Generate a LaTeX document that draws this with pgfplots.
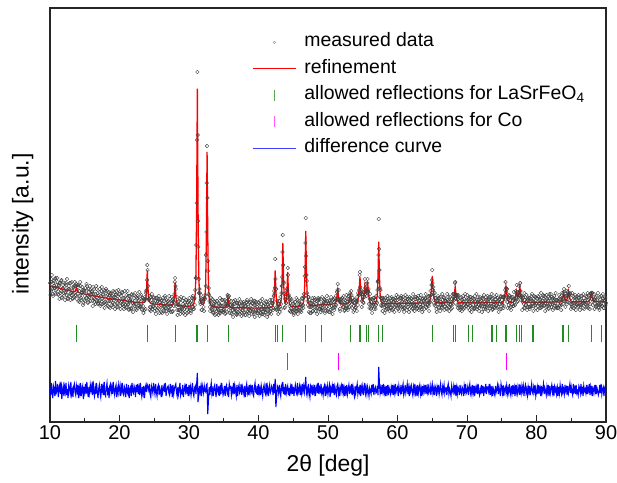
\documentclass[border=0pt]{standalone}
\usepackage{fontspec}
\setmainfont{Liberation Sans}
\usepackage{pgfplots}
\usepackage{pgfplotstable}
\pgfplotsset{compat=1.18}

% measured data (m) and difference curve (d), at 10.0, 10.1, ...
\pgfplotstableread[row sep=\\]{
x m d\\
10.0 139 35\\ 10.1 131 27\\ 10.2 143 39\\ 10.3 134 30\\ 10.4 128 24\\ 10.5 139 36\\ 10.6 136 33\\ 10.7 129 26\\ 10.8 144 41\\ 10.9 132 29\\
11.0 133 31\\ 11.1 140 38\\ 11.2 127 25\\ 11.3 136 34\\ 11.4 139 37\\ 11.5 129 28\\ 11.6 141 40\\ 11.7 124 23\\ 11.8 133 32\\ 11.9 137 36\\
12.0 126 26\\ 12.1 135 35\\ 12.2 130 30\\ 12.3 139 39\\ 12.4 127 27\\ 12.5 132 33\\ 12.6 123 24\\ 12.7 136 37\\ 12.8 133 34\\ 12.9 128 29\\
13.0 139 40\\ 13.1 127 28\\ 13.2 131 32\\ 13.3 124 25\\ 13.4 134 35\\ 13.5 136 38\\ 13.6 129 30\\ 13.7 127 27\\ 13.8 138 36\\ 13.9 131 31\\
14.0 135 37\\ 14.1 121 24\\ 14.2 131 34\\ 14.3 126 29\\ 14.4 136 39\\ 14.5 122 26\\ 14.6 129 33\\ 14.7 132 36\\ 14.8 119 23\\ 14.9 131 35\\
15.0 126 30\\ 15.1 134 38\\ 15.2 124 28\\ 15.3 136 40\\ 15.4 127 31\\ 15.5 120 25\\ 15.6 130 35\\ 15.7 124 29\\ 15.8 132 37\\ 15.9 127 32\\
16.0 130 36\\ 16.1 121 27\\ 16.2 135 41\\ 16.3 124 30\\ 16.4 120 26\\ 16.5 128 34\\ 16.6 122 28\\ 16.7 133 39\\ 16.8 125 31\\ 16.9 118 24\\
17.0 126 33\\ 17.1 130 37\\ 17.2 122 29\\ 17.3 118 25\\ 17.4 131 38\\ 17.5 123 31\\ 17.6 127 35\\ 17.7 119 27\\ 17.8 132 40\\ 17.9 120 28\\
18.0 118 26\\ 18.1 126 34\\ 18.2 131 39\\ 18.3 121 29\\ 18.4 124 32\\ 18.5 115 24\\ 18.6 127 36\\ 18.7 129 38\\ 18.8 121 30\\ 18.9 126 35\\
19.0 119 28\\ 19.1 131 40\\ 19.2 122 31\\ 19.3 118 27\\ 19.4 125 34\\ 19.5 127 37\\ 19.6 115 25\\ 19.7 123 33\\ 19.8 119 29\\ 19.9 128 38\\
20.0 124 34\\ 20.1 116 26\\ 20.2 126 36\\ 20.3 121 31\\ 20.4 129 39\\ 20.5 118 29\\ 20.6 116 27\\ 20.7 124 35\\ 20.8 121 32\\ 20.9 114 25\\
21.0 127 38\\ 21.1 119 30\\ 21.2 117 28\\ 21.3 126 37\\ 21.4 113 24\\ 21.5 121 33\\ 21.6 123 35\\ 21.7 114 26\\ 21.8 127 39\\ 21.9 119 31\\
22.0 117 29\\ 22.1 124 36\\ 22.2 121 33\\ 22.3 113 25\\ 22.4 125 37\\ 22.5 118 30\\ 22.6 126 38\\ 22.7 116 28\\ 22.8 122 34\\ 22.9 115 27\\
23.0 126 39\\ 23.1 118 31\\ 23.2 113 26\\ 23.3 122 35\\ 23.4 116 29\\ 23.5 123 36\\ 23.6 112 24\\ 23.7 123 34\\ 23.8 129 37\\ 23.9 132 30\\
24.0 157 37\\ 24.1 136 35\\ 24.2 123 32\\ 24.3 126 38\\ 24.4 115 28\\ 24.5 111 25\\ 24.6 122 36\\ 24.7 119 33\\ 24.8 115 29\\ 24.9 125 39\\
25.0 119 33\\ 25.1 114 28\\ 25.2 124 38\\ 25.3 116 30\\ 25.4 112 26\\ 25.5 121 35\\ 25.6 123 37\\ 25.7 113 27\\ 25.8 120 34\\ 25.9 117 31\\
26.0 110 25\\ 26.1 122 37\\ 26.2 114 29\\ 26.3 118 33\\ 26.4 121 36\\ 26.5 115 30\\ 26.6 124 39\\ 26.7 111 26\\ 26.8 117 32\\ 26.9 120 35\\
27.0 121 36\\ 27.1 114 29\\ 27.2 112 27\\ 27.3 123 38\\ 27.4 116 31\\ 27.5 119 34\\ 27.6 110 25\\ 27.7 123 37\\ 27.8 116 28\\ 27.9 128 33\\
28.0 144 36\\ 28.1 133 38\\ 28.2 118 30\\ 28.3 112 26\\ 28.4 120 35\\ 28.5 112 28\\ 28.6 117 33\\ 28.7 123 39\\ 28.8 111 27\\ 28.9 115 31\\
29.0 113 29\\ 29.1 121 37\\ 29.2 109 25\\ 29.3 116 32\\ 29.4 120 36\\ 29.5 115 31\\ 29.6 122 38\\ 29.7 112 28\\ 29.8 119 35\\ 29.9 110 26\\
30.0 121 37\\ 30.1 114 30\\ 30.2 119 35\\ 30.3 111 27\\ 30.4 118 33\\ 30.5 124 39\\ 30.6 115 29\\ 30.7 113 26\\ 30.8 124 34\\ 30.9 132 36\\
31.0 144 28\\ 31.1 219 38\\ 31.2 350 49\\ 31.3 201 20\\ 31.4 143 27\\ 31.5 133 36\\ 31.6 120 30\\ 31.7 122 35\\ 31.8 112 26\\ 31.9 123 37\\
32.0 119 33\\ 32.1 115 29\\ 32.2 124 36\\ 32.3 123 31\\ 32.4 136 30\\ 32.5 190 37\\ 32.6 276 38\\ 32.7 161 8\\ 32.8 128 22\\ 32.9 127 35\\
33.0 115 27\\ 33.1 119 34\\ 33.2 124 39\\ 33.3 112 28\\ 33.4 115 32\\ 33.5 109 26\\ 33.6 118 35\\ 33.7 120 37\\ 33.8 113 30\\ 33.9 108 25\\
34.0 121 38\\ 34.1 114 31\\ 34.2 112 29\\ 34.3 119 36\\ 34.4 109 26\\ 34.5 117 34\\ 34.6 111 28\\ 34.7 122 39\\ 34.8 116 33\\ 34.9 110 27\\
35.0 112 30\\ 35.1 118 36\\ 35.2 108 26\\ 35.3 118 35\\ 35.4 121 37\\ 35.5 116 29\\ 35.6 125 32\\ 35.7 112 25\\ 35.8 122 38\\ 35.9 117 34\\
36.0 117 35\\ 36.1 109 27\\ 36.2 115 33\\ 36.3 112 30\\ 36.4 121 39\\ 36.5 110 28\\ 36.6 118 36\\ 36.7 113 31\\ 36.8 108 26\\ 36.9 119 37\\
37.0 108 26\\ 37.1 116 34\\ 37.2 119 37\\ 37.3 111 29\\ 37.4 113 31\\ 37.5 120 38\\ 37.6 109 27\\ 37.7 117 35\\ 37.8 114 32\\ 37.9 110 28\\
38.0 118 36\\ 38.1 107 25\\ 38.2 116 34\\ 38.3 120 38\\ 38.4 111 29\\ 38.5 115 33\\ 38.6 109 27\\ 38.7 119 37\\ 38.8 112 30\\ 38.9 117 35\\
39.0 113 31\\ 39.1 119 37\\ 39.2 110 28\\ 39.3 108 26\\ 39.4 117 35\\ 39.5 121 39\\ 39.6 112 30\\ 39.7 111 29\\ 39.8 118 36\\ 39.9 109 27\\
40.0 120 38\\ 40.1 111 29\\ 40.2 115 33\\ 40.3 109 27\\ 40.4 118 36\\ 40.5 113 31\\ 40.6 108 26\\ 40.7 116 34\\ 40.8 119 37\\ 40.9 112 30\\
41.0 110 28\\ 41.1 121 39\\ 41.2 112 30\\ 41.3 117 35\\ 41.4 108 26\\ 41.5 115 33\\ 41.6 119 37\\ 41.7 111 29\\ 41.8 113 31\\ 41.9 119 36\\
42.0 118 34\\ 42.1 112 27\\ 42.2 126 38\\ 42.3 128 29\\ 42.4 163 43\\ 42.5 114 15\\ 42.6 112 24\\ 42.7 121 36\\ 42.8 118 34\\ 42.9 113 29\\
43.0 121 37\\ 43.1 115 30\\ 43.2 113 26\\ 43.3 129 36\\ 43.4 145 33\\ 43.5 187 40\\ 43.6 140 28\\ 43.7 128 35\\ 43.8 115 27\\ 43.9 125 38\\
44.0 119 29\\ 44.1 133 33\\ 44.2 154 36\\ 44.3 126 27\\ 44.4 123 34\\ 44.5 111 26\\ 44.6 119 35\\ 44.7 114 31\\ 44.8 121 38\\ 44.9 111 28\\
45.0 118 35\\ 45.1 109 26\\ 45.2 116 33\\ 45.3 120 37\\ 45.4 113 30\\ 45.5 111 28\\ 45.6 122 39\\ 45.7 112 29\\ 45.8 115 32\\ 45.9 119 36\\
46.0 111 27\\ 46.1 118 34\\ 46.2 113 29\\ 46.3 123 38\\ 46.4 117 31\\ 46.5 125 36\\ 46.6 125 30\\ 46.7 155 37\\ 46.8 204 45\\ 46.9 147 29\\
47.0 129 33\\ 47.1 117 28\\ 47.2 125 38\\ 47.3 115 30\\ 47.4 109 25\\ 47.5 119 35\\ 47.6 115 31\\ 47.7 121 37\\ 47.8 111 27\\ 47.9 118 34\\
48.0 115 30\\ 48.1 122 37\\ 48.2 111 26\\ 48.3 118 33\\ 48.4 121 36\\ 48.5 114 29\\ 48.6 124 39\\ 48.7 113 28\\ 48.8 119 34\\ 48.9 116 31\\
49.0 123 38\\ 49.1 114 29\\ 49.2 117 32\\ 49.3 112 27\\ 49.4 120 35\\ 49.5 122 37\\ 49.6 111 26\\ 49.7 119 34\\ 49.8 115 30\\ 49.9 121 36\\
50.0 113 28\\ 50.1 118 33\\ 50.2 122 37\\ 50.3 110 25\\ 50.4 119 34\\ 50.5 116 31\\ 50.6 121 36\\ 50.7 114 29\\ 50.8 123 38\\ 50.9 112 27\\
51.0 121 35\\ 51.1 117 30\\ 51.2 117 27\\ 51.3 130 36\\ 51.4 138 38\\ 51.5 122 28\\ 51.6 123 33\\ 51.7 113 26\\ 51.8 120 34\\ 51.9 123 37\\
52.0 117 31\\ 52.1 124 38\\ 52.2 115 29\\ 52.3 120 34\\ 52.4 112 26\\ 52.5 122 36\\ 52.6 116 30\\ 52.7 123 37\\ 52.8 114 28\\ 52.9 120 33\\
53.0 126 37\\ 53.1 119 28\\ 53.2 129 34\\ 53.3 122 31\\ 53.4 127 38\\ 53.5 114 27\\ 53.6 121 35\\ 53.7 116 30\\ 53.8 112 26\\ 53.9 122 36\\
54.0 115 29\\ 54.1 120 34\\ 54.2 125 38\\ 54.3 117 28\\ 54.4 127 33\\ 54.5 132 30\\ 54.6 150 37\\ 54.7 128 26\\ 54.8 129 35\\ 54.9 121 31\\
55.0 125 36\\ 55.1 119 27\\ 55.2 129 33\\ 55.3 143 39\\ 55.4 128 29\\ 55.5 131 34\\ 55.6 129 28\\ 55.7 143 35\\ 55.8 130 31\\ 55.9 118 26\\
56.0 123 34\\ 56.1 118 31\\ 56.2 114 28\\ 56.3 123 37\\ 56.4 116 30\\ 56.5 124 38\\ 56.6 113 27\\ 56.7 119 33\\ 56.8 122 35\\ 56.9 117 29\\
57.0 120 30\\ 57.1 132 36\\ 57.2 141 27\\ 57.3 203 55\\ 57.4 152 38\\ 57.5 125 29\\ 57.6 124 34\\ 57.7 116 28\\ 57.8 124 37\\ 57.9 117 31\\
58.0 124 38\\ 58.1 115 29\\ 58.2 119 33\\ 58.3 112 26\\ 58.4 122 36\\ 58.5 116 30\\ 58.6 123 37\\ 58.7 113 27\\ 58.8 120 34\\ 58.9 117 31\\
59.0 114 28\\ 59.1 121 35\\ 59.2 117 31\\ 59.3 123 37\\ 59.4 113 27\\ 59.5 120 34\\ 59.6 115 29\\ 59.7 124 38\\ 59.8 116 30\\ 59.9 119 33\\
60.0 122 35\\ 60.1 113 26\\ 60.2 123 36\\ 60.3 118 31\\ 60.4 116 29\\ 60.5 124 37\\ 60.6 115 28\\ 60.7 121 34\\ 60.8 125 38\\ 60.9 114 27\\
61.0 117 30\\ 61.1 124 37\\ 61.2 116 29\\ 61.3 120 33\\ 61.4 125 38\\ 61.5 115 28\\ 61.6 121 34\\ 61.7 113 26\\ 61.8 122 35\\ 61.9 118 31\\
62.0 123 36\\ 62.1 118 31\\ 62.2 114 27\\ 62.3 122 35\\ 62.4 117 30\\ 62.5 125 38\\ 62.6 116 29\\ 62.7 120 33\\ 62.8 113 26\\ 62.9 124 37\\
63.0 116 29\\ 63.1 121 34\\ 63.2 124 37\\ 63.3 115 28\\ 63.4 120 33\\ 63.5 113 26\\ 63.6 123 36\\ 63.7 117 30\\ 63.8 122 35\\ 63.9 118 31\\
64.0 124 37\\ 64.1 115 28\\ 64.2 121 34\\ 64.3 117 30\\ 64.4 125 38\\ 64.5 116 29\\ 64.6 119 31\\ 64.7 126 36\\ 64.8 122 27\\ 64.9 137 34\\
65.0 152 38\\ 65.1 132 29\\ 65.2 128 33\\ 65.3 117 27\\ 65.4 124 36\\ 65.5 121 34\\ 65.6 113 26\\ 65.7 122 35\\ 65.8 118 31\\ 65.9 124 37\\
66.0 115 28\\ 66.1 120 33\\ 66.2 125 38\\ 66.3 117 30\\ 66.4 114 27\\ 66.5 122 35\\ 66.6 118 31\\ 66.7 124 37\\ 66.8 116 29\\ 66.9 121 34\\
67.0 121 34\\ 67.1 114 27\\ 67.2 122 35\\ 67.3 125 38\\ 67.4 115 28\\ 67.5 120 33\\ 67.6 117 30\\ 67.7 113 26\\ 67.8 123 36\\ 67.9 119 31\\
68.0 118 29\\ 68.1 128 36\\ 68.2 128 31\\ 68.3 140 37\\ 68.4 123 26\\ 68.5 126 34\\ 68.6 117 28\\ 68.7 123 35\\ 68.8 120 33\\ 68.9 114 27\\
69.0 124 37\\ 69.1 117 30\\ 69.2 115 28\\ 69.3 122 35\\ 69.4 120 33\\ 69.5 113 26\\ 69.6 123 36\\ 69.7 118 31\\ 69.8 125 38\\ 69.9 116 29\\
70.0 118 31\\ 70.1 122 35\\ 70.2 114 27\\ 70.3 121 34\\ 70.4 125 38\\ 70.5 116 29\\ 70.6 120 33\\ 70.7 115 28\\ 70.8 124 37\\ 70.9 117 30\\
71.0 123 36\\ 71.1 113 26\\ 71.2 121 34\\ 71.3 118 31\\ 71.4 122 35\\ 71.5 115 28\\ 71.6 125 38\\ 71.7 117 30\\ 71.8 114 27\\ 71.9 120 33\\
72.0 117 30\\ 72.1 124 37\\ 72.2 116 29\\ 72.3 123 36\\ 72.4 113 26\\ 72.5 120 33\\ 72.6 118 31\\ 72.7 125 38\\ 72.8 115 28\\ 72.9 122 35\\
73.0 122 35\\ 73.1 118 31\\ 73.2 125 38\\ 73.3 114 27\\ 73.4 121 34\\ 73.5 116 29\\ 73.6 123 36\\ 73.7 113 26\\ 73.8 120 33\\ 73.9 117 30\\
74.0 114 27\\ 74.1 123 36\\ 74.2 117 30\\ 74.3 120 33\\ 74.4 124 37\\ 74.5 115 28\\ 74.6 122 35\\ 74.7 118 31\\ 74.8 113 26\\ 74.9 125 38\\
75.0 122 34\\ 75.1 117 29\\ 75.2 125 37\\ 75.3 116 26\\ 75.4 125 33\\ 75.5 132 35\\ 75.6 134 30\\ 75.7 133 36\\ 75.8 120 28\\ 75.9 123 33\\
76.0 117 29\\ 76.1 126 38\\ 76.2 119 31\\ 76.3 115 27\\ 76.4 124 36\\ 76.5 118 30\\ 76.6 125 37\\ 76.7 116 28\\ 76.8 123 34\\ 76.9 117 26\\
77.0 131 37\\ 77.1 129 30\\ 77.2 130 35\\ 77.3 121 28\\ 77.4 125 31\\ 77.5 136 38\\ 77.6 131 27\\ 77.7 131 34\\ 77.8 122 29\\ 77.9 126 36\\
78.0 120 31\\ 78.1 124 36\\ 78.2 114 26\\ 78.3 122 34\\ 78.4 125 37\\ 78.5 117 29\\ 78.6 121 33\\ 78.7 115 27\\ 78.8 123 35\\ 78.9 118 30\\
79.0 124 36\\ 79.1 115 27\\ 79.2 121 33\\ 79.3 126 38\\ 79.4 118 30\\ 79.5 116 28\\ 79.6 123 35\\ 79.7 119 31\\ 79.8 125 37\\ 79.9 114 26\\
80.0 118 30\\ 80.1 123 35\\ 80.2 116 28\\ 80.3 125 37\\ 80.4 119 31\\ 80.5 122 34\\ 80.6 114 26\\ 80.7 124 36\\ 80.8 117 29\\ 80.9 121 33\\
81.0 126 38\\ 81.1 116 28\\ 81.2 122 34\\ 81.3 119 31\\ 81.4 115 27\\ 81.5 123 35\\ 81.6 118 30\\ 81.7 125 37\\ 81.8 114 26\\ 81.9 124 36\\
82.0 117 29\\ 82.1 121 33\\ 82.2 125 37\\ 82.3 118 30\\ 82.4 124 36\\ 82.5 114 26\\ 82.6 123 35\\ 82.7 119 31\\ 82.8 122 34\\ 82.9 116 28\\
83.0 122 34\\ 83.1 114 26\\ 83.2 123 35\\ 83.3 117 29\\ 83.4 125 37\\ 83.5 119 31\\ 83.6 117 28\\ 83.7 129 38\\ 83.8 123 30\\ 83.9 130 33\\
84.0 121 28\\ 84.1 128 37\\ 84.2 121 31\\ 84.3 124 34\\ 84.4 118 27\\ 84.5 130 36\\ 84.6 128 29\\ 84.7 127 33\\ 84.8 129 38\\ 84.9 118 29\\
85.0 124 35\\ 85.1 118 30\\ 85.2 115 27\\ 85.3 126 38\\ 85.4 119 31\\ 85.5 122 34\\ 85.6 116 28\\ 85.7 125 37\\ 85.8 117 29\\ 85.9 119 31\\
86.0 115 27\\ 86.1 124 36\\ 86.2 122 34\\ 86.3 117 29\\ 86.4 126 38\\ 86.5 118 30\\ 86.6 121 33\\ 86.7 114 26\\ 86.8 124 36\\ 86.9 119 31\\
87.0 121 33\\ 87.1 117 29\\ 87.2 125 37\\ 87.3 116 28\\ 87.4 122 34\\ 87.5 119 31\\ 87.6 127 38\\ 87.7 118 27\\ 87.8 128 35\\ 87.9 126 30\\
88.0 129 36\\ 88.1 117 26\\ 88.2 122 33\\ 88.3 123 35\\ 88.4 118 30\\ 88.5 125 37\\ 88.6 116 28\\ 88.7 122 34\\ 88.8 119 31\\ 88.9 115 27\\
89.0 118 30\\ 89.1 125 37\\ 89.2 117 29\\ 89.3 126 38\\ 89.4 116 28\\ 89.5 121 33\\ 89.6 123 35\\ 89.7 114 26\\ 89.8 122 34\\ 89.9 124 36\\
90.0 119 31\\
}\obs

% measured data at the intermediate angles 10.05, 10.15, ...
\pgfplotstableread[row sep=\\]{
x m\\
10.05 127\\ 10.15 140\\ 10.25 147\\ 10.35 133\\ 10.45 126\\ 10.55 141\\ 10.65 134\\ 10.75 143\\ 10.85 128\\ 10.95 137\\
11.05 144\\ 11.15 128\\ 11.25 137\\ 11.35 123\\ 11.45 139\\ 11.55 131\\ 11.65 142\\ 11.75 125\\ 11.85 134\\ 11.95 129\\
12.05 139\\ 12.15 122\\ 12.25 129\\ 12.35 137\\ 12.45 143\\ 12.55 124\\ 12.65 133\\ 12.75 126\\ 12.85 139\\ 12.95 122\\
13.05 129\\ 13.15 140\\ 13.25 123\\ 13.35 135\\ 13.45 125\\ 13.55 140\\ 13.65 127\\ 13.75 136\\ 13.85 123\\ 13.95 137\\
14.05 137\\ 14.15 126\\ 14.25 120\\ 14.35 140\\ 14.45 124\\ 14.55 129\\ 14.65 135\\ 14.75 117\\ 14.85 132\\ 14.95 122\\
15.05 121\\ 15.15 131\\ 15.25 138\\ 15.35 124\\ 15.45 119\\ 15.55 133\\ 15.65 125\\ 15.75 136\\ 15.85 121\\ 15.95 128\\
16.05 131\\ 16.15 116\\ 16.25 128\\ 16.35 133\\ 16.45 123\\ 16.55 118\\ 16.65 136\\ 16.75 121\\ 16.85 129\\ 16.95 119\\
17.05 121\\ 17.15 133\\ 17.25 116\\ 17.35 126\\ 17.45 135\\ 17.55 118\\ 17.65 128\\ 17.75 122\\ 17.85 114\\ 17.95 131\\
18.05 133\\ 18.15 119\\ 18.25 127\\ 18.35 116\\ 18.45 130\\ 18.55 121\\ 18.65 114\\ 18.75 128\\ 18.85 124\\ 18.95 117\\
19.05 115\\ 19.15 125\\ 19.25 130\\ 19.35 113\\ 19.45 127\\ 19.55 131\\ 19.65 119\\ 19.75 115\\ 19.85 132\\ 19.95 121\\
20.05 128\\ 20.15 113\\ 20.25 120\\ 20.35 130\\ 20.45 117\\ 20.55 124\\ 20.65 113\\ 20.75 131\\ 20.85 117\\ 20.95 123\\
21.05 115\\ 21.15 131\\ 21.25 118\\ 21.35 112\\ 21.45 126\\ 21.55 122\\ 21.65 113\\ 21.75 128\\ 21.85 119\\ 21.95 110\\
22.05 127\\ 22.15 116\\ 22.25 129\\ 22.35 118\\ 22.45 112\\ 22.55 124\\ 22.65 114\\ 22.75 121\\ 22.85 130\\ 22.95 115\\
23.05 116\\ 23.15 127\\ 23.25 112\\ 23.35 124\\ 23.45 109\\ 23.55 121\\ 23.65 125\\ 23.75 113\\ 23.85 131\\ 23.95 142\\
24.05 152\\ 24.15 122\\ 24.25 123\\ 24.35 112\\ 24.45 125\\ 24.55 115\\ 24.65 128\\ 24.75 113\\ 24.85 116\\ 24.95 124\\
25.05 111\\ 25.15 121\\ 25.25 108\\ 25.35 124\\ 25.45 120\\ 25.55 114\\ 25.65 126\\ 25.75 109\\ 25.85 123\\ 25.95 117\\
26.05 121\\ 26.15 109\\ 26.25 124\\ 26.35 115\\ 26.45 111\\ 26.55 126\\ 26.65 114\\ 26.75 122\\ 26.85 108\\ 26.95 118\\
27.05 112\\ 27.15 126\\ 27.25 116\\ 27.35 110\\ 27.45 121\\ 27.55 125\\ 27.65 111\\ 27.75 121\\ 27.85 120\\ 27.95 140\\
28.05 136\\ 28.15 116\\ 28.25 125\\ 28.35 107\\ 28.45 117\\ 28.55 121\\ 28.65 112\\ 28.75 108\\ 28.85 125\\ 28.95 114\\
29.05 110\\ 29.15 118\\ 29.25 124\\ 29.35 113\\ 29.45 107\\ 29.55 122\\ 29.65 117\\ 29.75 109\\ 29.85 120\\ 29.95 115\\
30.05 124\\ 30.15 112\\ 30.25 109\\ 30.35 121\\ 30.45 115\\ 30.55 126\\ 30.65 113\\ 30.75 123\\ 30.85 117\\ 30.95 144\\
31.05 177\\ 31.15 282\\ 31.25 287\\ 31.35 175\\ 31.45 129\\ 31.55 129\\ 31.65 118\\ 31.75 127\\ 31.85 112\\ 31.95 121\\
32.05 123\\ 32.15 111\\ 32.25 124\\ 32.35 127\\ 32.45 167\\ 32.55 239\\ 32.65 224\\ 32.75 151\\ 32.85 134\\ 32.95 121\\
33.05 111\\ 33.15 121\\ 33.25 114\\ 33.35 123\\ 33.45 110\\ 33.55 116\\ 33.65 121\\ 33.75 107\\ 33.85 117\\ 33.95 111\\
34.05 121\\ 34.15 113\\ 34.25 107\\ 34.35 118\\ 34.45 124\\ 34.55 109\\ 34.65 116\\ 34.75 111\\ 34.85 122\\ 34.95 112\\
35.05 113\\ 35.15 122\\ 35.25 109\\ 35.35 116\\ 35.45 110\\ 35.55 127\\ 35.65 119\\ 35.75 126\\ 35.85 109\\ 35.95 114\\
36.05 121\\ 36.15 108\\ 36.25 117\\ 36.35 105\\ 36.45 118\\ 36.55 113\\ 36.65 122\\ 36.75 111\\ 36.85 107\\ 36.95 119\\
37.05 110\\ 37.15 115\\ 37.25 123\\ 37.35 108\\ 37.45 116\\ 37.55 106\\ 37.65 119\\ 37.75 112\\ 37.85 120\\ 37.95 109\\
38.05 116\\ 38.15 107\\ 38.25 119\\ 38.35 122\\ 38.45 110\\ 38.55 113\\ 38.65 106\\ 38.75 120\\ 38.85 111\\ 38.95 123\\
39.05 108\\ 39.15 118\\ 39.25 112\\ 39.35 121\\ 39.45 105\\ 39.55 117\\ 39.65 120\\ 39.75 109\\ 39.85 115\\ 39.95 111\\
40.05 119\\ 40.15 106\\ 40.25 121\\ 40.35 113\\ 40.45 108\\ 40.55 123\\ 40.65 110\\ 40.75 116\\ 40.85 107\\ 40.95 118\\
41.05 112\\ 41.15 120\\ 41.25 105\\ 41.35 118\\ 41.45 115\\ 41.55 109\\ 41.65 122\\ 41.75 111\\ 41.85 108\\ 41.95 122\\
42.05 119\\ 42.15 114\\ 42.25 131\\ 42.35 134\\ 42.45 143\\ 42.55 133\\ 42.65 113\\ 42.75 117\\ 42.85 108\\ 42.95 121\\
43.05 110\\ 43.15 125\\ 43.25 118\\ 43.35 136\\ 43.45 170\\ 43.55 157\\ 43.65 139\\ 43.75 114\\ 43.85 123\\ 43.95 119\\
44.05 130\\ 44.15 132\\ 44.25 147\\ 44.35 127\\ 44.45 116\\ 44.55 124\\ 44.65 110\\ 44.75 123\\ 44.85 113\\ 44.95 110\\
45.05 107\\ 45.15 117\\ 45.25 120\\ 45.35 111\\ 45.45 124\\ 45.55 114\\ 45.65 108\\ 45.75 118\\ 45.85 121\\ 45.95 112\\
46.05 117\\ 46.15 110\\ 46.25 124\\ 46.35 116\\ 46.45 114\\ 46.55 128\\ 46.65 146\\ 46.75 179\\ 46.85 166\\ 46.95 141\\
47.05 121\\ 47.15 125\\ 47.25 110\\ 47.35 122\\ 47.45 115\\ 47.55 109\\ 47.65 119\\ 47.75 124\\ 47.85 111\\ 47.95 117\\
48.05 124\\ 48.15 115\\ 48.25 111\\ 48.35 121\\ 48.45 108\\ 48.55 122\\ 48.65 116\\ 48.75 123\\ 48.85 113\\ 48.95 110\\
49.05 112\\ 49.15 125\\ 49.25 114\\ 49.35 118\\ 49.45 123\\ 49.55 109\\ 49.65 121\\ 49.75 115\\ 49.85 126\\ 49.95 111\\
50.05 119\\ 50.15 110\\ 50.25 121\\ 50.35 112\\ 50.45 125\\ 50.55 116\\ 50.65 108\\ 50.75 122\\ 50.85 114\\ 50.95 124\\
51.05 115\\ 51.15 126\\ 51.25 122\\ 51.35 132\\ 51.45 123\\ 51.55 132\\ 51.65 120\\ 51.75 111\\ 51.85 122\\ 51.95 120\\
52.05 124\\ 52.15 115\\ 52.25 126\\ 52.35 111\\ 52.45 119\\ 52.55 114\\ 52.65 127\\ 52.75 116\\ 52.85 112\\ 52.95 123\\
53.05 115\\ 53.15 127\\ 53.25 120\\ 53.35 131\\ 53.45 118\\ 53.55 124\\ 53.65 110\\ 53.75 122\\ 53.85 119\\ 53.95 114\\
54.05 121\\ 54.15 111\\ 54.25 121\\ 54.35 129\\ 54.45 127\\ 54.55 147\\ 54.65 135\\ 54.75 132\\ 54.85 115\\ 54.95 128\\
55.05 120\\ 55.15 130\\ 55.25 125\\ 55.35 134\\ 55.45 138\\ 55.55 126\\ 55.65 139\\ 55.75 131\\ 55.85 133\\ 55.95 114\\
56.05 128\\ 56.15 113\\ 56.25 120\\ 56.35 109\\ 56.45 122\\ 56.55 117\\ 56.65 124\\ 56.75 115\\ 56.85 113\\ 56.95 126\\
57.05 119\\ 57.15 140\\ 57.25 167\\ 57.35 173\\ 57.45 134\\ 57.55 132\\ 57.65 117\\ 57.75 121\\ 57.85 111\\ 57.95 120\\
58.05 122\\ 58.15 109\\ 58.25 124\\ 58.35 116\\ 58.45 113\\ 58.55 126\\ 58.65 117\\ 58.75 121\\ 58.85 111\\ 58.95 124\\
59.05 115\\ 59.15 125\\ 59.25 112\\ 59.35 120\\ 59.45 123\\ 59.55 110\\ 59.65 122\\ 59.75 117\\ 59.85 127\\ 59.95 114\\
60.05 125\\ 60.15 117\\ 60.25 111\\ 60.35 124\\ 60.45 116\\ 60.55 126\\ 60.65 120\\ 60.75 113\\ 60.85 122\\ 60.95 110\\
61.05 114\\ 61.15 127\\ 61.25 121\\ 61.35 112\\ 61.45 123\\ 61.55 118\\ 61.65 110\\ 61.75 125\\ 61.85 117\\ 61.95 124\\
62.05 120\\ 62.15 113\\ 62.25 128\\ 62.35 116\\ 62.45 111\\ 62.55 123\\ 62.65 125\\ 62.75 117\\ 62.85 114\\ 62.95 126\\
63.05 112\\ 63.15 122\\ 63.25 118\\ 63.35 127\\ 63.45 115\\ 63.55 110\\ 63.65 124\\ 63.75 121\\ 63.85 113\\ 63.95 123\\
64.05 128\\ 64.15 114\\ 64.25 122\\ 64.35 117\\ 64.45 126\\ 64.55 111\\ 64.65 120\\ 64.75 131\\ 64.85 127\\ 64.95 142\\
65.05 139\\ 65.15 135\\ 65.25 119\\ 65.35 129\\ 65.45 116\\ 65.55 124\\ 65.65 110\\ 65.75 121\\ 65.85 126\\ 65.95 114\\
66.05 124\\ 66.15 111\\ 66.25 120\\ 66.35 115\\ 66.45 128\\ 66.55 117\\ 66.65 125\\ 66.75 112\\ 66.85 122\\ 66.95 118\\
67.05 113\\ 67.15 128\\ 67.25 116\\ 67.35 121\\ 67.45 111\\ 67.55 125\\ 67.65 118\\ 67.75 123\\ 67.85 114\\ 67.95 128\\
68.05 125\\ 68.15 122\\ 68.25 139\\ 68.35 123\\ 68.45 127\\ 68.55 127\\ 68.65 114\\ 68.75 127\\ 68.85 117\\ 68.95 112\\
69.05 115\\ 69.15 125\\ 69.25 111\\ 69.35 122\\ 69.45 126\\ 69.55 117\\ 69.65 114\\ 69.75 128\\ 69.85 116\\ 69.95 121\\
70.05 127\\ 70.15 118\\ 70.25 123\\ 70.35 112\\ 70.45 116\\ 70.55 125\\ 70.65 110\\ 70.75 121\\ 70.85 124\\ 70.95 113\\
71.05 114\\ 71.15 126\\ 71.25 117\\ 71.35 128\\ 71.45 113\\ 71.55 120\\ 71.65 122\\ 71.75 111\\ 71.85 125\\ 71.95 116\\
72.05 121\\ 72.15 110\\ 72.25 124\\ 72.35 118\\ 72.45 127\\ 72.55 115\\ 72.65 113\\ 72.75 122\\ 72.85 117\\ 72.95 126\\
73.05 111\\ 73.15 123\\ 73.25 116\\ 73.35 125\\ 73.45 118\\ 73.55 128\\ 73.65 112\\ 73.75 124\\ 73.85 115\\ 73.95 120\\
74.05 125\\ 74.15 116\\ 74.25 127\\ 74.35 114\\ 74.45 121\\ 74.55 110\\ 74.65 123\\ 74.75 118\\ 74.85 126\\ 74.95 113\\
75.05 119\\ 75.15 125\\ 75.25 114\\ 75.35 126\\ 75.45 123\\ 75.55 140\\ 75.65 130\\ 75.75 133\\ 75.85 114\\ 75.95 125\\
76.05 127\\ 76.15 114\\ 76.25 122\\ 76.35 112\\ 76.45 125\\ 76.55 121\\ 76.65 116\\ 76.75 130\\ 76.85 119\\ 76.95 123\\
77.05 124\\ 77.15 137\\ 77.25 120\\ 77.35 129\\ 77.45 127\\ 77.55 126\\ 77.65 139\\ 77.75 125\\ 77.85 126\\ 77.95 112\\
78.05 125\\ 78.15 118\\ 78.25 129\\ 78.35 114\\ 78.45 117\\ 78.55 127\\ 78.65 112\\ 78.75 122\\ 78.85 124\\ 78.95 115\\
79.05 113\\ 79.15 123\\ 79.25 116\\ 79.35 128\\ 79.45 121\\ 79.55 111\\ 79.65 126\\ 79.75 117\\ 79.85 125\\ 79.95 119\\
80.05 124\\ 80.15 112\\ 80.25 126\\ 80.35 118\\ 80.45 114\\ 80.55 123\\ 80.65 129\\ 80.75 115\\ 80.85 119\\ 80.95 127\\
81.05 117\\ 81.15 126\\ 81.25 111\\ 81.35 122\\ 81.45 127\\ 81.55 116\\ 81.65 121\\ 81.75 113\\ 81.85 128\\ 81.95 118\\
82.05 128\\ 82.15 115\\ 82.25 123\\ 82.35 112\\ 82.45 119\\ 82.55 126\\ 82.65 116\\ 82.75 129\\ 82.85 114\\ 82.95 122\\
83.05 114\\ 83.15 121\\ 83.25 127\\ 83.35 116\\ 83.45 123\\ 83.55 112\\ 83.65 127\\ 83.75 122\\ 83.85 118\\ 83.95 133\\
84.05 126\\ 84.15 115\\ 84.25 126\\ 84.35 131\\ 84.45 120\\ 84.55 126\\ 84.65 136\\ 84.75 122\\ 84.85 128\\ 84.95 113\\
85.05 115\\ 85.15 129\\ 85.25 119\\ 85.35 114\\ 85.45 124\\ 85.55 127\\ 85.65 112\\ 85.75 123\\ 85.85 118\\ 85.95 125\\
86.05 127\\ 86.15 116\\ 86.25 112\\ 86.35 122\\ 86.45 117\\ 86.55 126\\ 86.65 119\\ 86.75 128\\ 86.85 113\\ 86.95 121\\
87.05 118\\ 87.15 126\\ 87.25 115\\ 87.35 129\\ 87.45 114\\ 87.55 123\\ 87.65 113\\ 87.75 128\\ 87.85 129\\ 87.95 123\\
88.05 129\\ 88.15 121\\ 88.25 128\\ 88.35 113\\ 88.45 122\\ 88.55 115\\ 88.65 126\\ 88.75 117\\ 88.85 129\\ 88.95 114\\
89.05 112\\ 89.15 123\\ 89.25 118\\ 89.35 126\\ 89.45 116\\ 89.55 128\\ 89.65 114\\ 89.75 121\\ 89.85 125\\ 89.95 117\\
}\obsB

% refinement (calculated profile)
\pgfplotstableread[row sep=\\]{
x y\\
10 136.5\\ 11 134.5\\ 12 132.5\\ 13 131\\ 13.5 130.3\\ 13.6 130.6\\ 13.7 131.9\\ 13.8 134\\ 13.9 131.7\\ 14.0 130.1\\ 14.2 129.2\\
15 128\\ 16 126.5\\ 17 125.2\\ 18 124\\ 19 123\\ 20 122\\ 21 121\\ 22 120\\ 23 119.2\\
23.5 119.4\\ 23.6 119.8\\ 23.7 120.7\\ 23.8 123.7\\ 23.9 133.5\\ 24.0 151.5\\ 24.1 133.4\\ 24.2 123.4\\ 24.3 120.4\\ 24.4 119.3\\ 24.5 118.7\\
25 118\\ 26 117.5\\ 27 117\\ 27.5 116.8\\ 27.6 117.2\\ 27.7 118\\ 27.8 120\\ 27.9 126.9\\ 28.0 139.5\\ 28.1 126.9\\ 28.2 120\\ 28.3 117.9\\ 28.4 117.1\\ 28.5 116.5\\
29 116\\ 30 115.6\\ 30.4 116.6\\ 30.5 117\\ 30.6 117.7\\ 30.7 118.8\\ 30.8 121.9\\ 30.9 128.4\\ 31.0 148.3\\ 31.1 213.3\\ 31.2 333.3\\ 31.3 213.3\\ 31.4 148.3\\
31.5 128.6\\ 31.6 122.2\\ 31.7 119.2\\ 31.8 118.3\\ 31.9 117.8\\ 32.0 117.7\\ 32.1 118.1\\ 32.2 120.3\\ 32.3 124.4\\ 32.4 138.1\\ 32.5 185.1\\ 32.6 270.1\\
32.7 185.1\\ 32.8 138.1\\ 32.9 124.4\\ 33.0 119.7\\ 33.1 117.3\\ 33.2 116.6\\ 33.3 116.1\\ 33.5 115.3\\ 34 114.8\\ 35 114.5\\
35.3 115\\ 35.4 116\\ 35.5 119\\ 35.6 124.5\\ 35.7 119\\ 35.8 116\\ 35.9 115\\ 36 114.4\\ 38 114.1\\ 40 114\\ 41 114.3\\ 41.8 114.7\\
41.9 115.1\\ 42.0 115.7\\ 42.1 116.8\\ 42.2 120.2\\ 42.3 131.3\\ 42.4 151.6\\ 42.5 131.4\\ 42.6 120.3\\ 42.7 116.9\\ 42.8 115.9\\ 42.9 115.5\\
43.0 115.9\\ 43.1 116.8\\ 43.2 118.7\\ 43.3 124.5\\ 43.4 143.7\\ 43.5 179\\ 43.6 143.9\\ 43.7 124.7\\ 43.8 119.9\\ 43.9 119.2\\
44.0 121.5\\ 44.1 131.5\\ 44.2 150.2\\ 44.3 131\\ 44.4 120.5\\ 44.5 117.3\\ 44.6 116.2\\ 44.7 115.5\\ 45 115.5\\ 46 115.9\\
46.3 117.2\\ 46.4 118.4\\ 46.5 120.6\\ 46.6 127.4\\ 46.7 149.9\\ 46.8 191.1\\ 46.9 150\\ 47.0 127.5\\ 47.1 120.8\\ 47.2 118.6\\ 47.3 117.4\\ 47.5 116.6\\
48 116.7\\ 49 117.1\\ 50 117.5\\ 51 118.4\\ 51.1 119.4\\ 51.2 121.9\\ 51.3 126.1\\ 51.4 131.7\\ 51.5 126.1\\ 51.6 121.9\\ 51.7 119.4\\ 51.8 118.4\\ 52 117.8\\
52.9 119\\ 53.0 120.6\\ 53.1 123.3\\ 53.2 126.9\\ 53.3 123.3\\ 53.4 120.6\\ 53.5 119\\ 53.7 118\\ 54 118\\
54.2 119.4\\ 54.3 121.2\\ 54.4 126.1\\ 54.5 134.2\\ 54.6 145\\ 54.7 134.2\\ 54.8 126.1\\ 54.9 122.1\\ 55.0 121.4\\ 55.1 123.6\\ 55.2 128.2\\
55.3 136\\ 55.4 130.7\\ 55.5 129.4\\ 55.6 132.6\\ 55.7 139.9\\ 55.8 130.6\\ 55.9 124.3\\ 56.0 120.5\\ 56.1 119\\ 56.2 118.2\\ 56.7 118.3\\
56.8 119.2\\ 56.9 120.2\\ 57.0 122\\ 57.1 127.6\\ 57.2 146.2\\ 57.3 180.3\\ 57.4 146.2\\ 57.5 127.6\\ 57.6 122\\ 57.7 120.2\\ 57.8 119.2\\ 58 118.4\\
60 118.7\\ 64.5 119\\ 64.6 120.4\\ 64.7 122.2\\ 64.8 127.1\\ 64.9 135.2\\ 65.0 146\\ 65.1 135.2\\ 65.2 127.1\\ 65.3 122.2\\ 65.4 120.4\\ 65.5 119.1\\
67.8 119.2\\ 67.9 120\\ 68.0 121.1\\ 68.1 124\\ 68.2 128.8\\ 68.3 135.2\\ 68.4 128.8\\ 68.5 124\\ 68.6 121.1\\ 68.7 120\\ 68.8 119.3\\ 70 119.3\\
75.1 119.6\\ 75.2 120.4\\ 75.3 121.5\\ 75.4 124.4\\ 75.5 129.2\\ 75.6 135.6\\ 75.7 129.2\\ 75.8 124.4\\ 75.9 121.5\\ 76.0 120.4\\ 76.1 119.7\\ 76.6 119.7\\
76.7 120.3\\ 76.8 121\\ 76.9 123\\ 77.0 126.3\\ 77.1 130.7\\ 77.2 127.1\\ 77.3 124.9\\ 77.4 125.8\\ 77.5 129.9\\ 77.6 135.7\\ 77.7 129.3\\ 77.8 124.5\\
77.9 121.6\\ 78.0 120.5\\ 78.1 119.8\\ 80 119.8\\ 83.5 120\\ 83.6 121.1\\ 83.7 122.7\\ 83.8 125.4\\ 83.9 129\\ 84.0 125.4\\ 84.1 122.7\\ 84.2 121.6\\
84.3 121.8\\ 84.4 123.2\\ 84.5 126.3\\ 84.6 130.6\\ 84.7 126.3\\ 84.8 123.2\\ 84.9 121.4\\ 85.0 120.6\\ 85.1 120.1\\ 87.5 120.2\\
87.6 121.2\\ 87.7 122.6\\ 87.8 125\\ 87.9 128.2\\ 88.0 125\\ 88.1 122.6\\ 88.2 121.2\\ 88.3 120.3\\ 90 120.3\\
}\calc

% allowed reflections
\pgfplotstableread[row sep=\\]{
x y\\
13.8 88.7\\ 24.0 88.7\\ 28.0 88.7\\ 31.15 88.7\\ 32.6 88.7\\ 35.7 88.7\\ 42.4 88.7\\ 42.7 88.7\\ 43.5 88.7\\ 46.8 88.7\\
49.1 88.7\\ 53.3 88.7\\ 54.6 88.7\\ 55.5 88.7\\ 55.8 88.7\\ 57.3 88.7\\ 57.8 88.7\\ 65.0 88.7\\ 68.0 88.7\\ 68.4 88.7\\
70.2 88.7\\ 70.8 88.7\\ 73.6 88.7\\ 74.3 88.7\\ 75.5 88.7\\ 75.7 88.7\\ 77.1 88.7\\ 77.5 88.7\\ 77.9 88.7\\ 79.5 88.7\\
83.7 88.7\\ 83.9 88.7\\ 84.6 88.7\\ 87.9 88.7\\ 89.3 88.7\\
}\reflA
\pgfplotstableread[row sep=\\]{
x y\\
44.15 60.3\\ 51.5 60.3\\ 75.7 60.3\\
}\reflB

\definecolor{tickgreen}{RGB}{34,139,34}
\definecolor{tickmag}{RGB}{255,0,255}

\pgfplotsset{
  linelegend/.style={legend image code/.code={\draw[##1] (0bp,0bp) -- (43bp,0bp);}},
  ticklegend/.style={legend image code/.code={\draw[##1] (21.5bp,-5.5bp) -- (21.5bp,5.5bp);}},
  dotlegend/.style={legend image code/.code={\draw[##1] (21.5bp,0bp) circle (1.3bp);}},
}

\begin{document}
\begin{tikzpicture}
\useasboundingbox (-50bp,-61bp) rectangle (567bp,422bp);
\begin{axis}[
  at={(0,0)}, anchor=south west,
  scale only axis, width=556bp, height=414bp,
  xmin=10, xmax=90, ymin=0, ymax=414,
  xtick={10,20,...,90}, minor x tick num=1,
  ytick=\empty,
  xtick pos=left,
  tick align=inside,
  major tick length=7bp, minor tick length=4bp,
  every tick/.style={black!85, line width=0.9bp},
  axis line style={black!85, line width=1.3bp},
  /pgf/number format/assume math mode=true,
  xticklabel style={font=\fontsize{20}{24}\selectfont},
  xlabel={2θ [deg]},
  ylabel={intensity [a.u.]},
  xlabel style={font=\fontsize{23}{27}\selectfont, at={(axis description cs:0.5,-0.106)}, anchor=center},
  ylabel style={font=\fontsize{23}{27}\selectfont, at={(axis description cs:-0.049,0.478)}, anchor=center},
  legend style={at={(axis description cs:0.358,0.95)}, anchor=north west, draw=none, fill=none,
    font=\fontsize{19.5}{22}\selectfont, row sep=3.5bp,
    nodes={inner sep=2bp, text height=14bp, text depth=5bp},
    /tikz/every odd column/.append style={column sep=6bp}},
  legend cell align=left,
]
\addlegendimage{dotlegend, draw=black!40, line width=0.4bp}
\addlegendentry{measured data}
\addlegendimage{linelegend, draw=red, line width=1.2bp}
\addlegendentry{refinement}
\addlegendimage{ticklegend, draw=tickgreen!75, line width=1.1bp}
\addlegendentry{allowed reflections for LaSrFeO\textsubscript{4}}
\addlegendimage{ticklegend, draw=tickmag!65, line width=1.1bp}
\addlegendentry{allowed reflections for Co}
\addlegendimage{linelegend, draw=blue!75, line width=1.2bp}
\addlegendentry{difference curve}

\addplot[black!75, only marks, mark=o, mark size=1.8bp, mark options={line width=0.4bp}, forget plot]
  table[x=x, y=m]{\obs};
\addplot[black!75, only marks, mark=o, mark size=1.8bp, mark options={line width=0.4bp}, forget plot]
  table[x=x, y=m]{\obsB};
\addplot[red, line width=1.3bp, forget plot]
  table[x=x, y=y]{\calc};
\addplot[tickgreen, only marks, mark=|, mark size=8.3bp, mark options={line width=1.1bp}, forget plot]
  table[x=x, y=y]{\reflA};
\addplot[tickmag, only marks, mark=|, mark size=8.3bp, mark options={line width=1.1bp}, forget plot]
  table[x=x, y=y]{\reflB};
\addplot[blue, line width=1.1bp, forget plot]
  table[x=x, y=d]{\obs};
\end{axis}
\end{tikzpicture}
\end{document}
